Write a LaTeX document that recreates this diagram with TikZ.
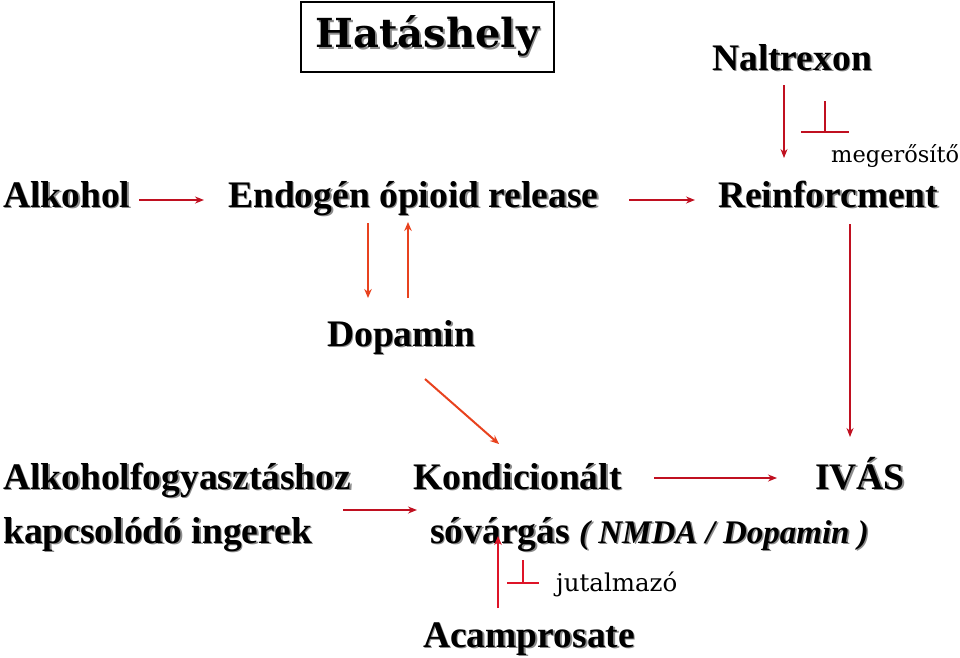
\documentclass[tikz,border=0pt]{standalone}
\usepackage{fontspec}
\setmainfont{Liberation Serif}
\newfontfamily\dvs{DejaVu Serif}
\usetikzlibrary{arrows.meta}
\definecolor{dred}{RGB}{192,16,32}
\definecolor{ored}{RGB}{232,66,30}
\definecolor{bred}{RGB}{222,20,40}
\definecolor{shgray}{RGB}{140,140,140}
\newcommand\shd[1]{\rlap{\kern1.6pt\raisebox{-1.6pt}{\color{shgray}#1}}#1}
\begin{document}
\begin{tikzpicture}[x=1pt,y=-1pt,
  lbl/.style={anchor=base west,inner sep=0pt,font=\fontsize{37.5}{40}\selectfont\bfseries},
  small/.style={anchor=base west,inner sep=0pt,font=\fontsize{22.5}{24}\selectfont\dvs},
  arr/.style={draw=dred,line width=1.6pt,-{Stealth[length=9pt,width=7pt]}},
  oarr/.style={draw=ored,line width=2pt,-{Stealth[length=9pt,width=7.5pt]}},
  barr/.style={draw=bred,line width=2.4pt,-{Stealth[length=9pt,width=7.5pt]}},
  inh/.style={draw=dred,line width=2.4pt},
  binh/.style={draw=bred,line width=2.4pt}
]
\useasboundingbox (0,0) rectangle (960,657);

% title box
\node[draw,line width=2.4pt,minimum width=253pt,minimum height=70pt,inner sep=0pt,
      font=\fontsize{40}{42}\selectfont\dvs\bfseries] (title) at (427.5,37)
      {\shd{Hatáshely}};

% main labels
\node[lbl] (alk) at (3,207) {\shd{Alkohol}};
\node[lbl] (endo) at (228,207) {\shd{Endogén ópioid release}};
\node[lbl] (reinf) at (718,207) {\shd{Reinforcment}};
\node[lbl] (nal) at (712,70) {\shd{Naltrexon}};
\node[small] (meg) at (831,162) {megerősítő};
\node[lbl] (dop) at (327,346) {\shd{Dopamin}};
\node[lbl] (alkf) at (3,489) {\shd{Alkoholfogyasztáshoz}};
\node[lbl] (kapcs) at (3,543) {\shd{kapcsolódó ingerek}};
\node[lbl] (kond) at (413,489) {\shd{Kondicionált}};
\node[lbl] (ivas) at (815,489) {\shd{IVÁS}};
\node[lbl] (sov) at (430,543) {\shd{sóvárgás}\ \fontsize{33}{36}\selectfont\shd{\textit{( NMDA / Dopamin )}}};
\node[small,font=\fontsize{24.5}{26}\selectfont\dvs] (jut) at (556,591) {jutalmazó};
\node[lbl] (acam) at (423,647) {\shd{Acamprosate}};

% arrow end coordinates
\coordinate (a1s) at (139,200); \coordinate (a1e) at (204,200);
\coordinate (a2s) at (629,200); \coordinate (a2e) at (695,200);
\coordinate (n1s) at (784,85);  \coordinate (n1e) at (784,158);
\coordinate (r1s) at (850,224); \coordinate (r1e) at (850,437);
\coordinate (k1s) at (654,478); \coordinate (k1e) at (777,478);
\coordinate (d1s) at (368,223); \coordinate (d1e) at (368,298);
\coordinate (d2s) at (408,298); \coordinate (d2e) at (408,222);
\coordinate (d3s) at (425,379); \coordinate (d3e) at (499,444);
\coordinate (i1s) at (343,510); \coordinate (i1e) at (417,510);
\coordinate (c1s) at (498,608); \coordinate (c1e) at (498,536);

\draw[arr] (a1s) -- (a1e);
\draw[arr] (a2s) -- (a2e);
\draw[arr,line width=1.2pt] (n1s) -- (n1e);
\draw[arr] (r1s) -- (r1e);
\draw[arr] (k1s) -- (k1e);
\draw[oarr] (d1s) -- (d1e);
\draw[oarr] (d2s) -- (d2e);
\draw[oarr] (d3s) -- (d3e);
\draw[arr] (i1s) -- (i1e);
\draw[barr] (c1s) -- (c1e);

% inhibition symbols
\coordinate (t1top) at (825,101); \coordinate (t1l) at (801,132); \coordinate (t1r) at (849,132);
\draw[inh] (t1top) -- (t1top |- t1l);
\draw[inh] (t1l) -- (t1r);
\coordinate (t2top) at (523,560); \coordinate (t2l) at (507,583); \coordinate (t2r) at (539,583);
\draw[binh] (t2top) -- (t2top |- t2l);
\draw[binh] (t2l) -- (t2r);
\end{tikzpicture}
\end{document}
